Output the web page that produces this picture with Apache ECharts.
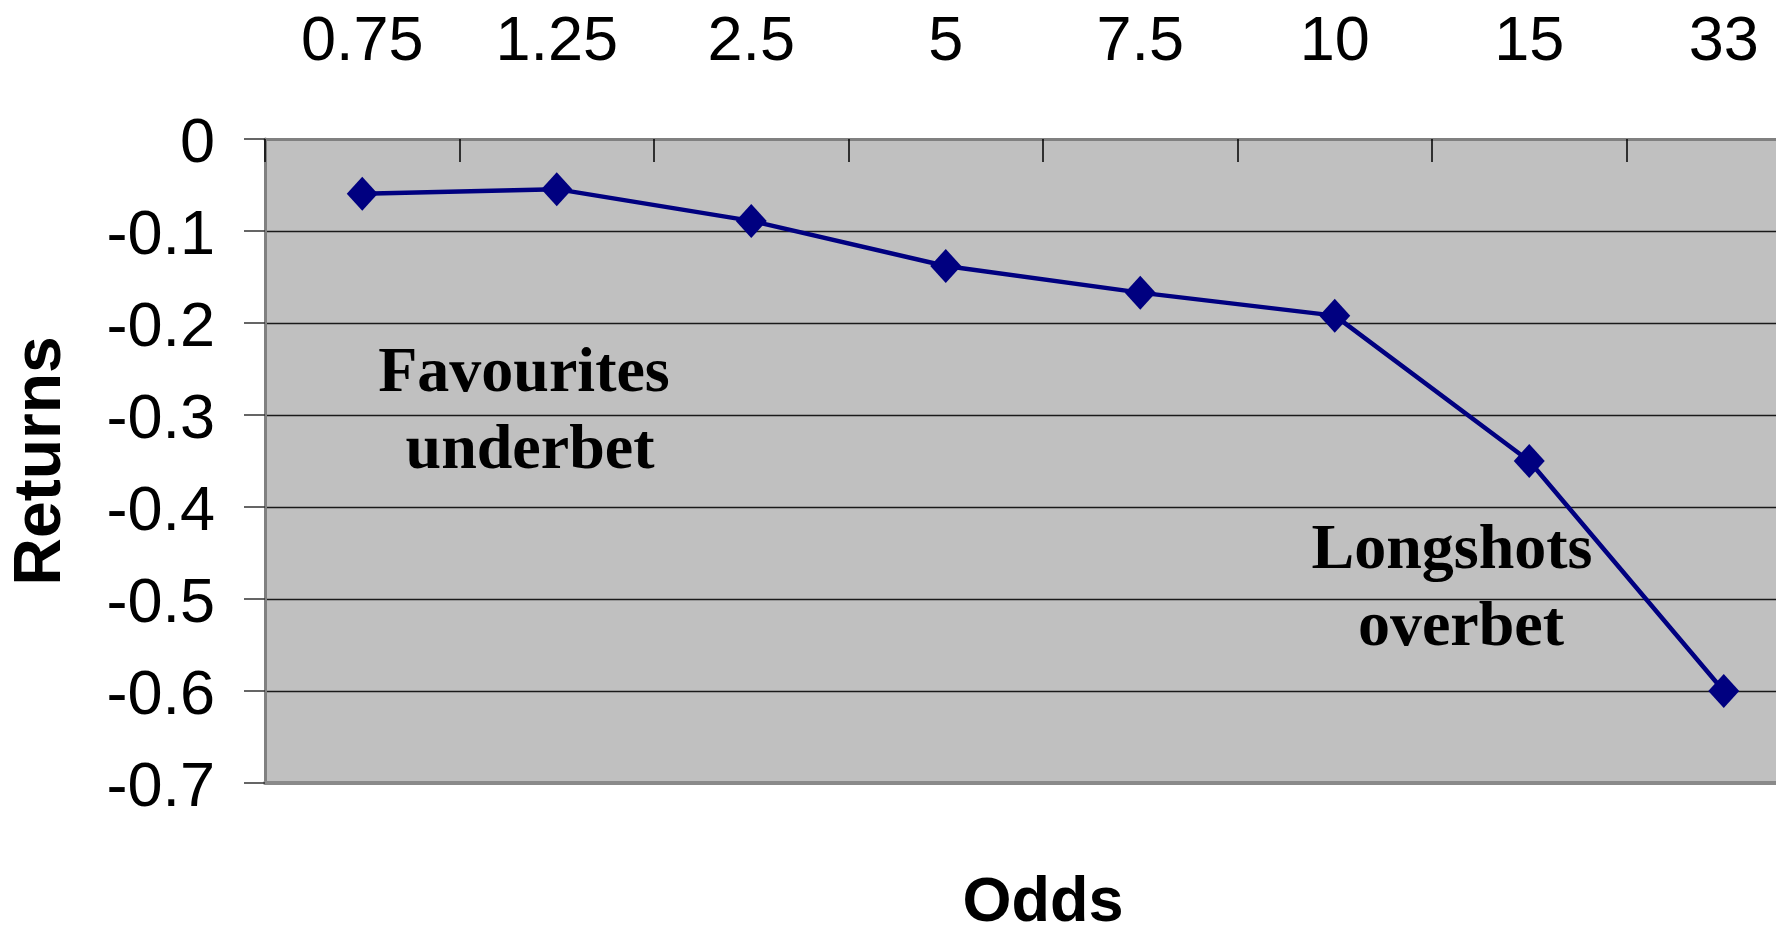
<!DOCTYPE html>
<html>
<head>
<meta charset="utf-8">
<script src="https://cdn.jsdelivr.net/npm/echarts@6/dist/echarts.min.js"></script>
<style>
  html, body { margin: 0; padding: 0; background: #ffffff; overflow: hidden; }
  #chart { width: 1776px; height: 925px; }
</style>
</head>
<body>
<div id="chart"></div>
<script>
// ---- data ----
const odds = ['0.75', '1.25', '2.5', '5', '7.5', '10', '15', '33'];
const returns = [-0.0595, -0.0545, -0.089, -0.138, -0.167, -0.192, -0.35, -0.6];
const yMin = -0.7;
const yMax = 0;
const yStep = 0.1;
const noteFavourites = ['Favourites', 'underbet'];
const noteLongshots = ['Longshots', 'overbet'];

const sans = "'Liberation Sans', Arial, sans-serif";
const serif = "'Liberation Serif', 'Times New Roman', serif";

const chart = echarts.init(document.getElementById('chart'), null, { renderer: 'canvas' });

function noteText(text, x, y) {
  return {
    type: 'text', x: x, y: y, z: 50,
    style: {
      text: text, fill: '#000000',
      font: 'bold 64px ' + serif,
      textAlign: 'center', textVerticalAlign: 'middle', verticalAlign: 'middle'
    }
  };
}

chart.setOption({
  animation: false,
  backgroundColor: '#ffffff',
  grid: {
    left: 265, top: 139, width: 1556, height: 644,
    outerBoundsMode: 'none', containLabel: false,
    show: true, backgroundColor: '#C0C0C0', borderWidth: 0
  },
  xAxis: [
    {
      type: 'category', data: odds, position: 'top', boundaryGap: true,
      axisLine: { show: true, lineStyle: { color: '#808080', width: 3 } },
      axisTick: { show: true, inside: true, length: 23, interval: 0, lineStyle: { color: '#000000', width: 1.5 } },
      axisLabel: { show: true, interval: 0, margin: 65, color: '#000000', fontSize: 63, fontFamily: sans },
      splitLine: { show: false }
    },
    {
      type: 'category', data: odds, position: 'bottom', boundaryGap: true,
      name: 'Odds', nameLocation: 'middle', nameGap: 89,
      nameTextStyle: { color: '#000000', fontSize: 63, fontWeight: 'bold', fontFamily: sans },
      axisLine: { show: true, lineStyle: { color: '#8a8a8a', width: 4 } },
      axisTick: { show: false },
      axisLabel: { show: false },
      splitLine: { show: false }
    }
  ],
  yAxis: {
    type: 'value', min: yMin, max: yMax, interval: yStep,
    name: 'Returns', nameLocation: 'middle', nameGap: 190, nameRotate: 90,
    nameTextStyle: { color: '#000000', fontSize: 66, fontWeight: 'bold', fontFamily: sans },
    axisLine: { show: true, lineStyle: { color: '#808080', width: 3 } },
    axisTick: { show: true, inside: false, length: 21, lineStyle: { color: '#333333', width: 1.5 } },
    axisLabel: {
      show: true, margin: 50, color: '#000000', fontSize: 63, fontFamily: sans,
      formatter: function (v) { return '{v|' + String(Math.round(v * 10) / 10) + '}'; },
      rich: {
        v: { color: '#000000', fontSize: 63, fontFamily: sans, padding: [12, 0, 0, 0] }
      }
    },
    splitLine: { show: true, lineStyle: { color: '#1a1a1a', width: 1.3 } }
  },
  series: [{
    type: 'line', xAxisIndex: 0, data: returns,
    symbol: 'diamond', symbolSize: [31, 34],
    lineStyle: { color: '#000080', width: 4.5 },
    itemStyle: { color: '#000080' },
    z: 10
  }],
  graphic: [
    noteText(noteFavourites[0], 524, 374.5),
    noteText(noteFavourites[1], 530, 451.5),
    noteText(noteLongshots[0], 1452, 551),
    noteText(noteLongshots[1], 1461, 628)
  ]
});
</script>
</body>
</html>
